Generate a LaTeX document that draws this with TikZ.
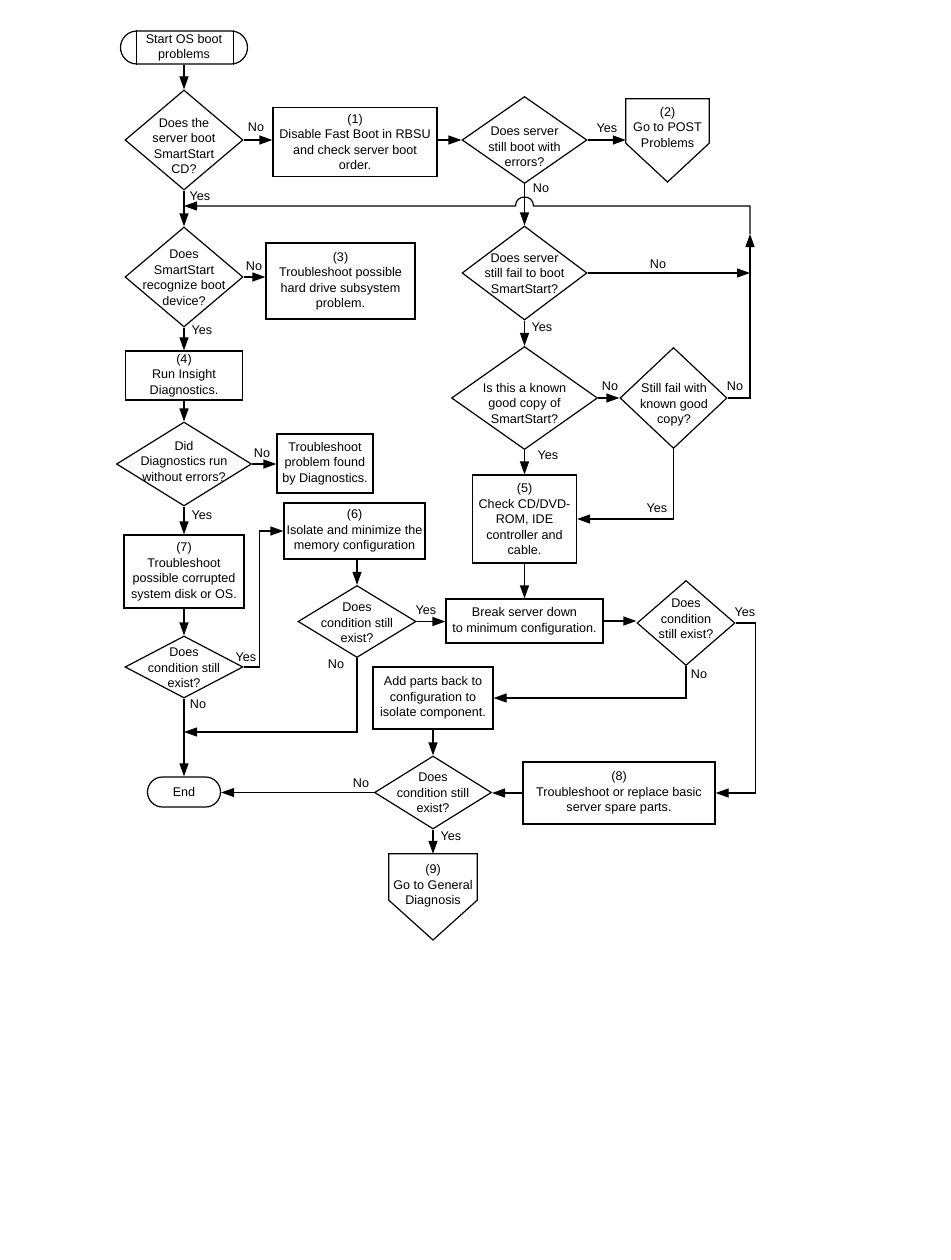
\documentclass[tikz,border=0pt]{standalone}
\usepackage{fontspec}
\setmainfont{Liberation Sans}
\usetikzlibrary{shapes.geometric,arrows.meta}
\begin{document}
\begin{tikzpicture}[x=1pt,y=-1pt,
  every node/.style={font=\fontsize{12.6}{15.5}\selectfont},
  ln/.style={line width=1.2pt},
  arr/.style={ln,-{Triangle[length=13pt,width=9pt]}},
  box/.style={draw,ln,rectangle,inner sep=0pt,align=center},
  dia/.style={draw,ln,diamond,inner sep=0pt},
  txt/.style={align=center,inner sep=0pt},
  lab/.style={inner sep=0pt}]
\fill[white] (0,0) rectangle (950,1260);
\useasboundingbox (0,0) rectangle (950,1260);

% ---- nodes ----
\node[box, rounded corners=16.5pt, minimum width=127pt, minimum height=33pt] (start) at (184,47.5) {Start OS boot\\problems};
\draw[ln] ([xshift=16.5pt]start.north west) -- ([xshift=16.5pt]start.south west);
\draw[ln] ([xshift=-14.5pt]start.north east) -- ([xshift=-14.5pt]start.south east);

\node[dia, minimum width=118pt, minimum height=100pt] (d1) at (184,140) {};
\node[txt] at (184,146) {Does the\\server boot\\SmartStart\\CD?};

\node[box, minimum width=164pt, minimum height=69pt] (b1) at (355,142) {(1)\\Disable Fast Boot in RBSU\\and check server boot\\order.};

\node[dia, minimum width=125pt, minimum height=87pt] (d2) at (524.5,140) {};
\node[txt] at (524.5,147) {Does server\\still boot with\\errors?};

\node[inner sep=0pt, minimum width=83pt, minimum height=44pt] (b2) at (667.5,121) {};
\coordinate (b2tip) at (667.5,182);
\draw[ln] (b2.north west) -- (b2.north east) -- (b2.south east) -- (b2tip) -- (b2.south west) -- cycle;
\node[txt] at (667.5,127) {(2)\\Go to POST\\Problems};

\node[dia, minimum width=125pt, minimum height=94pt] (d3) at (524.5,273) {};
\node[txt] at (524.5,273.5) {Does server\\still fail to boot\\SmartStart?};

\node[dia, minimum width=118pt, minimum height=100pt] (d6) at (184,277) {};
\node[txt] at (184,277.5) {Does\\SmartStart\\recognize boot\\device?};

\node[box, minimum width=149pt, minimum height=76pt] (b3) at (340.5,281) {(3)\\Troubleshoot possible\\hard drive subsystem\\problem.};

\node[box, minimum width=117pt, minimum height=49pt] (b4) at (184,375.5) {(4)\\Run Insight\\Diagnostics.};

\node[dia, minimum width=146pt, minimum height=103pt] (d4) at (524.5,398) {};
\node[txt] at (524.5,403) {Is this a known\\good copy of\\SmartStart?};

\node[dia, minimum width=107pt, minimum height=101pt] (d5) at (673.5,398) {};
\node[txt] at (674,405) {Still fail with\\known good\\copy?};

\node[dia, minimum width=135pt, minimum height=84pt] (d7) at (184,464) {};
\node[txt] at (184,461) {Did\\Diagnostics run\\without errors?};

\node[box, minimum width=96pt, minimum height=59pt] (bd) at (325,463.5) {Troubleshoot\\problem found\\by Diagnostics.};

\node[box, minimum width=104pt, minimum height=88pt] (b5) at (524.5,519) {(5)\\Check CD/DVD-\\ROM, IDE\\controller and\\cable.};

\node[box, minimum width=120pt, minimum height=73pt] (b7) at (184,571.5) {(7)\\Troubleshoot\\possible corrupted\\system disk or OS.};

\node[box, minimum width=141pt, minimum height=56pt] (b6) at (354.5,531) {(6)\\Isolate and minimize the\\memory configuration};

\node[dia, minimum width=118pt, minimum height=62pt] (d8) at (184,667) {};
\node[txt] at (184,668) {Does\\condition still\\exist?};

\node[dia, minimum width=118pt, minimum height=72pt] (d9) at (357,621.5) {};
\node[txt] at (357,623) {Does\\condition still\\exist?};

\node[box, minimum width=157pt, minimum height=44pt] (bk) at (524.5,621) {Break server down\\to minimum configuration.};

\node[dia, minimum width=98pt, minimum height=85pt] (d10) at (686,623) {};
\node[txt] at (686,619) {Does\\condition\\still exist?};

\node[box, minimum width=120pt, minimum height=62pt] (ad) at (433,698) {Add parts back to\\configuration to\\isolate component.};

\node[dia, minimum width=117pt, minimum height=73pt] (d11) at (433,792.5) {};
\node[txt] at (433,793) {Does\\condition still\\exist?};

\node[box, minimum width=192pt, minimum height=62pt] (b8) at (619,793) {(8)\\Troubleshoot or replace basic\\server spare parts.};

\node[box, rounded corners=15pt, minimum width=73pt, minimum height=30pt] (end) at (184,792) {End};

\node[inner sep=0pt, minimum width=88pt, minimum height=46pt] (b9) at (433,877) {};
\coordinate (b9tip) at (433,940);
\draw[ln] (b9.north west) -- (b9.north east) -- (b9.south east) -- (b9tip) -- (b9.south west) -- cycle;
\node[txt] at (433,886) {(9)\\Go to General\\Diagnosis};

% ---- helper coordinates ----
\coordinate (jx) at (750,206);
\coordinate (jup) at (750,234);
\coordinate (hc) at (524.5,206);
\coordinate (m1) at (184,732);

% ---- connectors ----
\draw[arr] (start.south) -- (d1.north);
\draw[arr] (d1.east) -- (d1.east -| b1.west);
\draw[arr] (d2.west -| b1.east) -- (d2.west);
\draw[arr] (d2.east) -- (d2.east -| b2.west);
\draw[arr] (d2.south) -- (d3.north);
\draw[arr] (d1.south) -- (d6.north);
\draw[arr] (d5.east) -- (d5.east -| jx) -- (jup);
\draw[arr] (jup) -- (jx) -- ([xshift=9pt]hc) .. controls ([xshift=9pt,yshift=12pt]hc) and ([xshift=-9pt,yshift=12pt]hc) .. ([xshift=-9pt]hc) -- (jx -| d1.north);
\draw[arr] (d3.east) -- (d3.east -| jx);
\draw[arr] (d3.south) -- (d4.north);
\draw[arr] (d4.east) -- (d5.west);
\draw[arr] (d5.south) |- (b5.east);
\draw[arr] (d4.south) -- (b5.north);
\draw[arr] (d6.east) -- (d6.east -| b3.west);
\draw[arr] (d6.south) -- (b4.north);
\draw[arr] (b4.south) -- (d7.north);
\draw[arr] (d7.east) -- (d7.east -| bd.west);
\draw[arr] (d7.south) -- (b7.north);
\draw[arr] (b7.south) -- (d8.north);
\draw[arr] (d8.east) -- ++(16,0) |- (b6.west);
\draw[arr] (d9.north |- b6.south) -- (d9.north);
\draw[arr] (d9.east) -- (d9.east -| bk.west);
\draw[arr] (d9.south) |- (m1);
\draw[arr] (d8.south) -- (end.north);
\draw[arr] (b5.south) -- (bk.north);
\draw[arr] (bk.east) -- (bk.east -| d10.west);
\draw[arr] (d10.east) -- ++(20,0) |- (b8.east);
\draw[arr] (d10.south) |- (ad.east);
\draw[arr] (ad.south) -- (d11.north);
\draw[arr] (b8.west) -- (b8.west -| d11.east);
\draw[arr] (d11.west) -- (d11.west -| end.east);
\draw[arr] (d11.south) -- (b9.north);

% ---- labels ----
\node[lab] at (256,127) {No};
\node[lab] at (200,196) {Yes};
\node[lab] at (607,128) {Yes};
\node[lab] at (541,188) {No};
\node[lab] at (254,266) {No};
\node[lab] at (202,330) {Yes};
\node[lab] at (658,264) {No};
\node[lab] at (542,327) {Yes};
\node[lab] at (610,386) {No};
\node[lab] at (735,386) {No};
\node[lab] at (548,455) {Yes};
\node[lab] at (657,508) {Yes};
\node[lab] at (262,453) {No};
\node[lab] at (202,515) {Yes};
\node[lab] at (246,657) {Yes};
\node[lab] at (198,704) {No};
\node[lab] at (426,610) {Yes};
\node[lab] at (336,664) {No};
\node[lab] at (745,612) {Yes};
\node[lab] at (699,674) {No};
\node[lab] at (361,783) {No};
\node[lab] at (451,836) {Yes};
\end{tikzpicture}
\end{document}
